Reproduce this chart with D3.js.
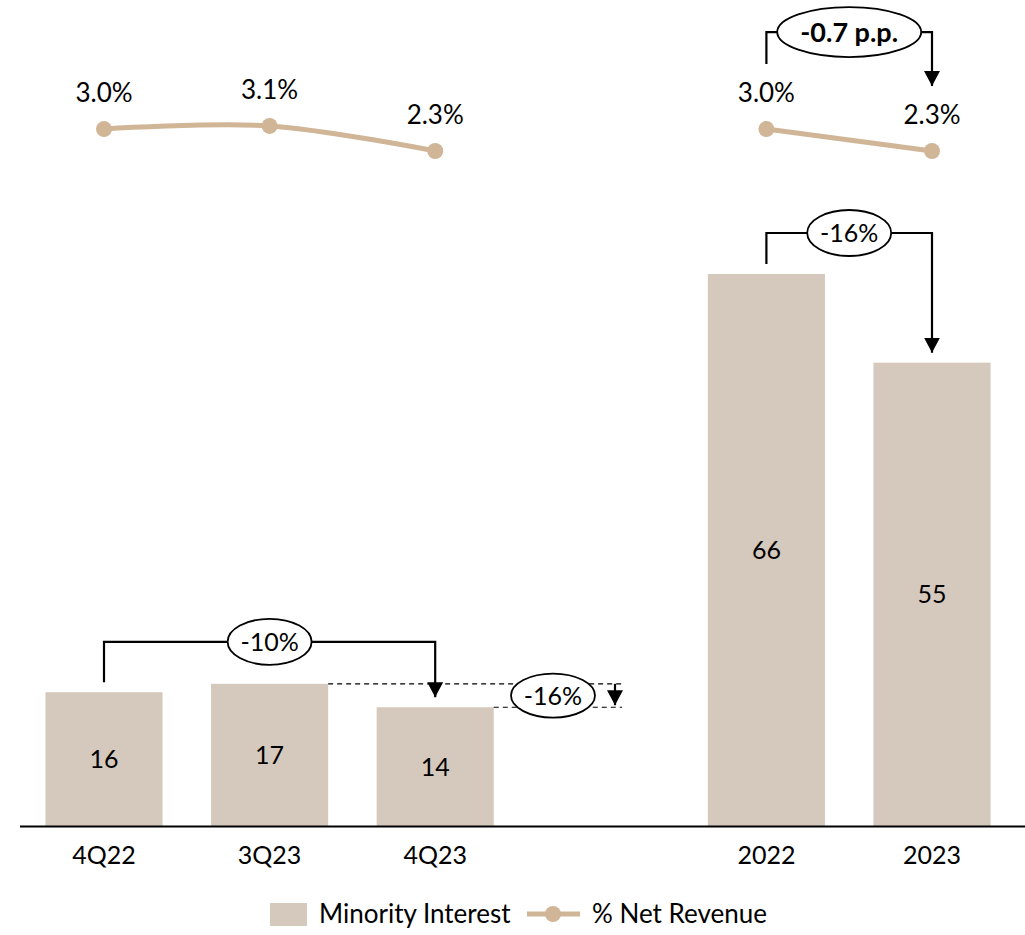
<!DOCTYPE html>
<html>
<head>
<meta charset="utf-8">
<script src="https://cdn.jsdelivr.net/npm/d3@7"></script>
<style>
  html, body { margin: 0; padding: 0; background: #fff; }
  svg text { font-family: Lato, "Open Sans", sans-serif; fill: #000; }
</style>
</head>
<body>
<svg id="chart" width="1025" height="935"></svg>
<script>
// ---- data ----
const slots = ["4Q22", "3Q23", "4Q23", "gap", "2022", "2023"];
const categories = ["4Q22", "3Q23", "4Q23", "2022", "2023"];
const minorityInterest = [16.0, 17.0, 14.2, 66.0, 55.4];
const netRevenuePct = [3.0, 3.1, 2.3, 3.0, 2.3];
const quarterCats = ["4Q22", "3Q23", "4Q23"];
const yearCats = ["2022", "2023"];
const legendLabels = ["Minority Interest", "% Net Revenue"];
const qoqLabel = "-10%";
const qoqSeqLabel = "-16%";
const yoyLabel = "-16%";
const ppLabel = "-0.7 p.p.";

const barColor = "#d5c8bc";
const lineColor = "#d0b597";

const svg = d3.select("#chart");

const x = d3.scaleBand().domain(slots).range([21.2, 1014.8])
  .paddingInner(0.293).paddingOuter(0.1465);
const y = d3.scaleLinear().domain([0, 66]).range([826, 274]);
const yp = d3.scaleLinear().domain([2.3, 3.1]).range([151, 125.9]);

const data = categories.map((c, i) => ({ cat: c, v: minorityInterest[i], p: netRevenuePct[i] }));
const cx = c => x(c) + x.bandwidth() / 2;
const byCat = c => data.find(d => d.cat === c);

// bars
svg.append("g").selectAll("rect").data(data).join("rect")
  .attr("x", d => x(d.cat)).attr("width", x.bandwidth())
  .attr("y", d => y(d.v)).attr("height", d => y(0) - y(d.v))
  .attr("fill", barColor);

svg.append("g").selectAll("text").data(data).join("text")
  .attr("x", d => cx(d.cat)).attr("y", d => (y(d.v) + y(0)) / 2)
  .attr("dy", "0.36em").attr("text-anchor", "middle")
  .attr("font-size", 25).text(d => d3.format(".0f")(d.v));

// axis
const axis = d3.axisBottom(x).tickValues(categories).tickSize(0).tickPadding(20);
const ga = svg.append("g").attr("transform", `translate(0,${y(0)})`).call(axis);
ga.select(".domain").remove();
ga.selectAll("text").attr("font-size", 25).attr("font-family", "Lato, 'Open Sans', sans-serif").attr("fill", "#000");
svg.append("line").attr("x1", 20).attr("x2", 1025).attr("y1", y(0) + 0.5).attr("y2", y(0) + 0.5)
  .attr("stroke", "#000").attr("stroke-width", 2);

// lines
const lineGen = d3.line().x(d => cx(d.cat)).y(d => yp(d.p)).curve(d3.curveCatmullRom.alpha(0.5));
[quarterCats, yearCats].forEach(group => {
  const pts = group.map(byCat);
  svg.append("path").datum(pts).attr("d", lineGen)
    .attr("fill", "none").attr("stroke", lineColor).attr("stroke-width", 5);
  svg.append("g").selectAll("circle").data(pts).join("circle")
    .attr("cx", d => cx(d.cat)).attr("cy", d => yp(d.p)).attr("r", 8).attr("fill", lineColor);
  svg.append("g").selectAll("text").data(pts).join("text")
    .attr("x", d => cx(d.cat)).attr("y", d => yp(d.p) - 36).attr("dy", "0.36em")
    .attr("text-anchor", "middle").attr("font-size", 26)
    .text(d => d3.format(".1f")(d.p) + "%");
});

// markers
const defs = svg.append("defs");
defs.append("marker").attr("id", "arrow").attr("viewBox", "0 0 15 16")
  .attr("refX", 15).attr("refY", 8).attr("markerWidth", 15).attr("markerHeight", 16)
  .attr("markerUnits", "userSpaceOnUse").attr("orient", "auto")
  .append("path").attr("d", "M0,0 L15,8 L0,16 Z").attr("fill", "#000");

function bubble(cxv, cyv, rx, ry, label, bold, fs) {
  svg.append("ellipse").attr("cx", cxv).attr("cy", cyv).attr("rx", rx).attr("ry", ry)
    .attr("fill", "#fff").attr("stroke", "#000").attr("stroke-width", 1.8);
  svg.append("text").attr("x", cxv).attr("y", cyv).attr("dy", "0.36em")
    .attr("text-anchor", "middle").attr("font-size", fs || 25)
    .attr("font-weight", bold ? "bold" : "normal").text(label);
}

function bracket(x1, y1, yTop, x2, y2, label, rx, ry, bold, fs) {
  svg.append("path")
    .attr("d", `M${x1},${y1} V${yTop} H${x2} V${y2}`)
    .attr("fill", "none").attr("stroke", "#000").attr("stroke-width", 2.2)
    .attr("marker-end", "url(#arrow)");
  bubble((x1 + x2) / 2, yTop, rx, ry, label, bold, fs);
}

// -10% QoQ (4Q22 -> 4Q23)
const a = byCat("4Q22"), b = byCat("4Q23"), m = byCat("3Q23");
bracket(cx(a.cat), y(a.v) - 10, y(d3.max([a.v, m.v, b.v])) - 42, cx(b.cat), y(b.v) - 10, qoqLabel, 42, 23, false);

// -16% sequential (3Q23 -> 4Q23)
const dashEnd = 622;
svg.append("line").attr("x1", x(m.cat) + x.bandwidth()).attr("x2", dashEnd)
  .attr("y1", y(m.v)).attr("y2", y(m.v))
  .attr("stroke", "#000").attr("stroke-width", 1.2).attr("stroke-dasharray", "5,4");
svg.append("line").attr("x1", x(b.cat) + x.bandwidth()).attr("x2", dashEnd)
  .attr("y1", y(b.v)).attr("y2", y(b.v))
  .attr("stroke", "#000").attr("stroke-width", 1.2).attr("stroke-dasharray", "5,4");
bubble(553, (y(m.v) + y(b.v)) / 2, 42, 22, qoqSeqLabel, false);
svg.append("line").attr("x1", 615).attr("x2", 615).attr("y1", y(m.v)).attr("y2", y(b.v) - 2)
  .attr("stroke", "#000").attr("stroke-width", 2.2).attr("marker-end", "url(#arrow)");

// -16% YoY bars
const c22 = byCat("2022"), c23 = byCat("2023");
bracket(cx(c22.cat), y(c22.v) - 10, y(c22.v) - 41, cx(c23.cat), y(c23.v) - 10, yoyLabel, 42, 23, false);

// -0.7 p.p.
bracket(cx(c22.cat), yp(c22.p) - 65, yp(c22.p) - 97, cx(c23.cat), yp(c23.p) - 65, ppLabel, 72, 25, true, 27);

// legend
const lg = svg.append("g");
lg.append("rect").attr("x", 270).attr("y", 903).attr("width", 37).attr("height", 23).attr("fill", barColor);
lg.append("text").attr("x", 319).attr("y", 914).attr("dy", "0.36em").attr("font-size", 26).text(legendLabels[0]);
lg.append("line").attr("x1", 527).attr("x2", 580).attr("y1", 914).attr("y2", 914)
  .attr("stroke", lineColor).attr("stroke-width", 5);
lg.append("circle").attr("cx", 553).attr("cy", 914).attr("r", 8).attr("fill", lineColor);
lg.append("text").attr("x", 592).attr("y", 914).attr("dy", "0.36em").attr("font-size", 26).text(legendLabels[1]);
</script>
</body>
</html>
